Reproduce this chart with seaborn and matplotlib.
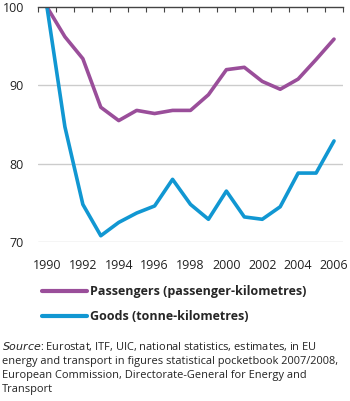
import matplotlib
matplotlib.use("Agg")
import matplotlib.pyplot as plt
import seaborn as sns
import pandas as pd
import numpy as np

years = list(range(1990, 2007))
passengers = [100, 96.2, 93.4, 87.2, 85.5, 86.8, 86.4, 86.8, 86.8, 88.8, 92.0, 92.3, 90.5, 89.5, 90.8, 93.3, 95.9]
goods = [100, 84.7, 74.8, 70.8, 72.5, 73.7, 74.6, 78.0, 74.8, 72.9, 76.5, 73.2, 72.9, 74.5, 78.8, 78.8, 82.9]
series_names = ["Passengers (passenger-kilometres)", "Goods (tonne-kilometres)"]
colors = ["#9A4E9A", "#1197D2"]
yticks = [70, 80, 90, 100]
xtick_labels = [str(y) for y in range(1990, 2007, 2)]

sns.set_theme(style="white")
plt.rcParams['font.family'] = ['Open Sans', 'DejaVu Sans']

df = pd.DataFrame({
    "year": years * 2,
    "value": passengers + goods,
    "series": [series_names[0]] * len(years) + [series_names[1]] * len(years),
})

W, H = 350, 401
fig = plt.figure(figsize=(W / 100, H / 100), dpi=100)
ax = fig.add_axes([38 / W, 1 - 242 / H, (343 - 38) / W, (242 - 7) / H])

sns.lineplot(data=df, x="year", y="value", hue="series", palette=colors,
             linewidth=2.6, ax=ax, legend=True)

ax.set_xlim(1989.5, 2006.5)
ax.set_ylim(70, 100)
ax.set_yticks(yticks)
ax.set_yticklabels([str(v) for v in yticks], fontsize=9, color="#222222")
ax.set_xticks(range(1990, 2007, 2))
ax.set_xticklabels(xtick_labels, fontsize=9, color="#222222")
ax.set_xticks(np.arange(1989.5, 2007, 1), minor=True)
ax.tick_params(axis="x", which="major", length=0, pad=12)
ax.tick_params(axis="x", which="minor", top=True, bottom=False, direction="in",
               length=3.5, width=0.8, color="#444444")
ax.tick_params(axis="y", which="major", length=0, pad=10)
ax.set_xlabel("")
ax.set_ylabel("")
for s in ["left", "right", "bottom"]:
    ax.spines[s].set_visible(False)
ax.spines["top"].set_visible(True)
ax.spines["top"].set_color("#444444")
ax.spines["top"].set_linewidth(1.0)
for y in yticks[:-1]:
    ax.axhline(y, color="#cccccc", linewidth=1.0, zorder=0)

handles, labels = ax.get_legend_handles_labels()
ax.legend_.remove()
leg = fig.legend(handles, labels, loc="upper left", bbox_to_anchor=(42 / W, 1 - 285 / H),
                 frameon=False, prop={"weight": "bold", "size": 9},
                 handlelength=3.6, handletextpad=0.25, labelspacing=0.95,
                 borderaxespad=0, borderpad=0)
for l in leg.get_lines():
    l.set_linewidth(3)

fig.text(2 / W, 1 - 340 / H,
         "$\\it{Source}$: Eurostat, ITF, UIC, national statistics, estimates, in EU\n"
         "energy and transport in figures statistical pocketbook 2007/2008,\n"
         "European Commission, Directorate-General for Energy and\n"
         "Transport",
         fontsize=7.9, va="top", ha="left", color="#222222", linespacing=1.36)

fig.savefig("out.png", dpi=100)
